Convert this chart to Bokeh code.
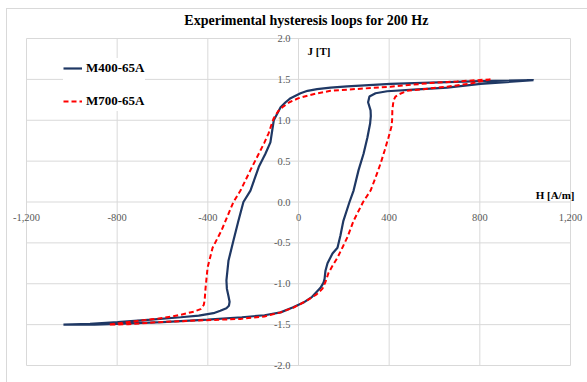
from bokeh.plotting import figure
from bokeh.models import (ColumnDataSource, Range1d, LabelSet, Label, Legend, LegendItem)
from bokeh.embed import file_html
from bokeh.resources import INLINE

# ---- axis ticks ----
h_ticks = [-1200, -800, -400, 0, 400, 800, 1200]
h_tick_labels = ["-1,200", "-800", "-400", "0", "400", "800", "1,200"]
j_ticks = [-2.0, -1.5, -1.0, -0.5, 0.0, 0.5, 1.0, 1.5, 2.0]
j_tick_labels = ["-2.0", "-1.5", "-1.0", "-0.5", "0.0", "0.5", "1.0", "1.5", "2.0"]

# ---- M400-65A loop: descending branch then ascending branch (H in A/m, J in T) ----
m400_h = [1037, 803, 582, 406, 215, 141, 82, 40, 9, -35, -57, -79, -94, -109, -116, -124,
          -146, -175, -212, -243, -265, -287, -309, -318, -316, -309, -304, -307, -318,
          -345, -375, -440, -520, -650, -798, -920, -1037,
          -900, -800, -600, -401, -250, -150, -79, -26, 22, 60, 97, 110, 115, 119, 128,
          150, 172, 185, 198, 225, 243, 265, 287, 304, 316, 319, 318, 307, 313, 340, 391,
          507, 656, 803, 1037]
m400_j = [1.49, 1.478, 1.46, 1.445, 1.415, 1.40, 1.38, 1.36, 1.33, 1.27, 1.22, 1.16, 1.08,
          1.00, 0.875, 0.73, 0.59, 0.43, 0.14, 0.00, -0.23, -0.47, -0.72, -0.96, -1.06,
          -1.15, -1.22, -1.27, -1.30, -1.33, -1.36, -1.39, -1.41, -1.44, -1.47, -1.49, -1.50,
          -1.50, -1.49, -1.47, -1.44, -1.41, -1.385, -1.35, -1.29, -1.23, -1.16, -1.05,
          -0.99, -0.94, -0.84, -0.75, -0.63, -0.56, -0.41, -0.23, 0.00, 0.14, 0.39, 0.59,
          0.79, 0.96, 1.05, 1.12, 1.22, 1.29, 1.33, 1.355, 1.375, 1.40, 1.445, 1.49]

# ---- M700-65A loop ----
m700_h = [847, 700, 582, 406, 216, 141, 84, 40, 0, -40, -66, -90, -110, -120, -132, -150,
          -168, -190, -212, -256, -287, -340, -379, -401, -410, -414, -418, -432, -460,
          -490, -520, -600, -697, -838,
          -750, -622, -450, -256, -150, -79, -20, 40, 80, 106, 120, 132, 150, 172, 195,
          216, 243, 285, 318, 340, 362, 380, 397, 410, 413, 414, 419, 428, 445, 479, 582,
          656, 760, 847]
m700_j = [1.50, 1.475, 1.455, 1.41, 1.375, 1.36, 1.33, 1.30, 1.27, 1.22, 1.17, 1.11, 1.02,
          0.94, 0.84, 0.73, 0.63, 0.51, 0.39, 0.14, 0.00, -0.35, -0.56, -0.80, -1.05,
          -1.20, -1.26, -1.31, -1.34, -1.36, -1.38, -1.42, -1.45, -1.50,
          -1.495, -1.47, -1.45, -1.43, -1.40, -1.35, -1.29, -1.20, -1.13, -1.06, -0.97,
          -0.87, -0.78, -0.68, -0.55, -0.43, -0.23, 0.00, 0.14, 0.30, 0.47, 0.63, 0.79,
          0.92, 1.00, 1.12, 1.24, 1.29, 1.32, 1.36, 1.39, 1.41, 1.45, 1.50]

NAVY = "#1F3864"
RED = "#FF0000"
GRID = "#D9D9D9"
TICK_TEXT = "#595959"
SERIF = "Liberation Serif"
SANS = "Liberation Sans"

# Page layout (pixels): the chart box starts at (7, 9) and the plot area
# spans x 26..570, y 38..365. The frame fills the whole canvas so that the
# title and edge labels are not clipped; ranges are widened to match.
CANVAS_X, CANVAS_Y, CANVAS_W, CANVAS_H = 7, 9, 581, 374
AREA_L, AREA_R, AREA_T, AREA_B = 26, 570, 38, 365
h_lo, h_hi = h_ticks[0], h_ticks[-1]
j_lo, j_hi = j_ticks[0], j_ticks[-1]
kx = (AREA_R - AREA_L) / (h_hi - h_lo)
ky = (AREA_B - AREA_T) / (j_hi - j_lo)
x_range = Range1d(h_lo - (AREA_L - CANVAS_X) / kx, h_hi + (CANVAS_X + CANVAS_W - AREA_R) / kx)
y_range = Range1d(j_lo - (CANVAS_Y + CANVAS_H - AREA_B) / ky, j_hi + (AREA_T - CANVAS_Y) / ky)

p = figure(width=CANVAS_W, height=CANVAS_H, output_backend="svg", toolbar_location=None,
           x_axis_type=None, y_axis_type=None, x_range=x_range, y_range=y_range,
           min_border=0, margin=(CANVAS_Y - 1, 0, 0, CANVAS_X - 1),
           styles={"border-left": "1px solid #D9D9D9", "border-top": "1px solid #D9D9D9"})
p.title.visible = False
p.outline_line_color = None
p.background_fill_color = "white"
p.border_fill_color = "white"

# grid lines, limited to the plot area
p.segment(x0=h_ticks, y0=[j_lo] * len(h_ticks), x1=h_ticks, y1=[j_hi] * len(h_ticks),
          line_color=GRID, line_width=1)
p.segment(x0=[h_lo] * len(j_ticks), y0=j_ticks, x1=[h_hi] * len(j_ticks), y1=j_ticks,
          line_color=GRID, line_width=1)

r400 = p.line(m400_h, m400_j, line_color=NAVY, line_width=2.2)
r700 = p.line(m700_h, m700_j, line_color=RED, line_width=2, line_dash="5 3")

# tick labels sit along the axes that cross at the origin
hsrc = ColumnDataSource(dict(x=h_ticks, y=[0] * len(h_ticks), t=h_tick_labels))
p.add_layout(LabelSet(x="x", y="y", text="t", source=hsrc, y_offset=-15.5,
                      text_align="center", text_baseline="middle",
                      text_font=SANS, text_font_size="10.5px", text_color=TICK_TEXT))
jsrc = ColumnDataSource(dict(x=[0] * len(j_ticks), y=j_ticks, t=j_tick_labels))
p.add_layout(LabelSet(x="x", y="y", text="t", source=jsrc, x_offset=-8,
                      text_align="right", text_baseline="middle",
                      text_font=SANS, text_font_size="10.5px", text_color=TICK_TEXT))

p.add_layout(Label(x=0, y=j_hi, x_offset=8, y_offset=18,
                   text="Experimental hysteresis loops for 200 Hz",
                   text_align="center", text_baseline="middle", text_font=SERIF,
                   text_font_style="bold", text_font_size="14px", text_color="black"))
p.add_layout(Label(x=h_hi, y=0, x_offset=4, y_offset=7, text="H [A/m]",
                   text_align="right", text_baseline="middle", text_font=SERIF,
                   text_font_style="bold", text_font_size="11px", text_color="black"))
p.add_layout(Label(x=0, y=j_hi, x_offset=9, y_offset=-12, text="J [T]",
                   text_align="left", text_baseline="middle", text_font=SERIF,
                   text_font_style="bold", text_font_size="11px", text_color="black"))

legend = Legend(items=[LegendItem(label="M400-65A", renderers=[r400]),
                       LegendItem(label="M700-65A", renderers=[r700])],
                location=(56, 272), padding=10, spacing=13, glyph_width=19, glyph_height=20,
                label_height=20, label_standoff=4, border_line_color=None,
                background_fill_color="white", background_fill_alpha=1.0,
                label_text_font=SERIF, label_text_font_style="bold",
                label_text_font_size="13px", label_text_color="black", margin=0)
p.add_layout(legend)

open("out.html", "w").write(file_html(p, INLINE))
